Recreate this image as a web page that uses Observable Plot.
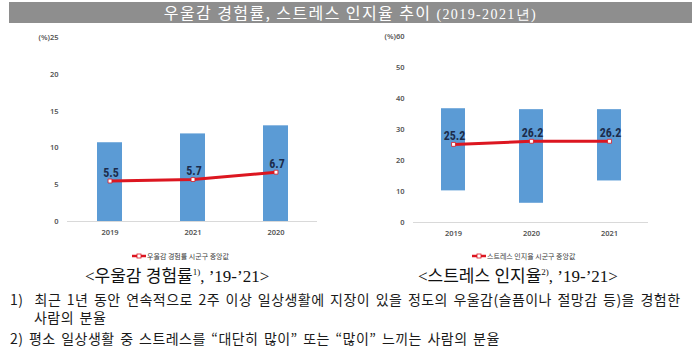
<!DOCTYPE html>
<html><head><meta charset="utf-8">
<script src="https://cdn.jsdelivr.net/npm/d3@7"></script>
<script src="https://cdn.jsdelivr.net/npm/@observablehq/plot@0.6"></script>
<style>
body{margin:0;background:#fff;}
#root{position:relative;width:700px;height:355px;overflow:hidden;font-family:"Noto Sans CJK KR","Noto Sans",sans-serif;}
.abs{position:absolute;white-space:nowrap;}
#title{left:9px;top:2px;width:683px;height:21px;background:#8e8e8e;color:#fff;font-size:16px;line-height:21px;text-align:center;letter-spacing:1.4px;}
.legend{font-size:7px;color:#404040;display:flex;align-items:center;}
.cap{font-family:"Liberation Serif","Noto Sans CJK KR",serif;font-size:17px;line-height:18px;color:#111;}
.cap sup{font-size:9px;vertical-align:0;position:relative;top:-7px;}
.note{font-size:14px;line-height:15px;color:#1a1a1a;letter-spacing:0.45px;word-spacing:2px;}
</style></head>
<body><div id="root">
<div id="title" class="abs">우울감 경험률, 스트레스 인지율 추이 <span style="font-family:'Liberation Serif';font-size:14px">(2019-2021년)</span></div>
</div>
<script>
// Left chart: 우울감 경험률
const leftYears = ["2019", "2021", "2020"];
const leftMin = [0, 0, 0];
const leftMax = [10.7, 11.9, 13.0];
const leftMedian = [5.5, 5.7, 6.7];
const leftTicks = [0, 5, 10, 15, 20, 25];
// Right chart: 스트레스 인지율
const rightYears = ["2019", "2020", "2021"];
const rightMin = [10.2, 6.2, 13.4];
const rightMax = [36.7, 36.4, 36.4];
const rightMedian = [25.2, 26.2, 26.2];
const rightTicks = [0, 10, 20, 30, 40, 50, 60];

const root = document.getElementById("root");

function makeChart(years, mins, maxs, meds, ticks, cfg) {
  const data = years.map((y, i) => ({year: y, lo: mins[i], hi: maxs[i], med: meds[i]}));
  const top = ticks[ticks.length - 1];
  const chart = Plot.plot({
    width: cfg.width, height: cfg.height,
    marginLeft: cfg.ml, marginRight: cfg.mr, marginTop: cfg.mt, marginBottom: cfg.mb,
    style: {fontFamily: "'Noto Sans', sans-serif", fontSize: "7.5px", fontWeight: "600", color: "#555", background: "transparent", overflow: "visible"},
    x: {domain: years, padding: 0, tickSize: 0, tickPadding: 8, label: null},
    y: {domain: [0, top], ticks: ticks, tickSize: 0, tickPadding: 9, label: null,
        tickFormat: d => d === top ? "(%)" + d : String(d)},
    marks: [
      Plot.rectY(data, {x: "year", y1: "lo", y2: "hi", fill: "#5b9bd5", insetLeft: cfg.inset, insetRight: cfg.inset}),
      Plot.ruleY([0], {stroke: "#d9d9d9", strokeWidth: 1}),
      Plot.line(data, {x: "year", y: "med", stroke: "#dc1620", strokeWidth: 3}),
      Plot.dot(data, {x: "year", y: "med", symbol: "square", r: 2.2, fill: "#fff", stroke: "#dc1620", strokeWidth: 0.8}),
      Plot.text(data, {x: "year", y: "med", text: d => d.med.toFixed(1), dy: -8, dx: 1, fontSize: 12, fontWeight: "bold", fill: "#1c2c4c", fontFamily: "'Liberation Sans Narrow','Roboto Condensed','Liberation Sans',sans-serif"})
    ]
  });
  chart.style.position = "absolute";
  chart.style.left = cfg.left + "px";
  chart.style.top = "0px";
  root.appendChild(chart);
}

makeChart(leftYears, leftMin, leftMax, leftMedian, leftTicks,
  {left: 0, width: 350, height: 250, ml: 67, mr: 33, mt: 37, mb: 29, inset: 29});
makeChart(rightYears, rightMin, rightMax, rightMedian, rightTicks,
  {left: 350, width: 350, height: 250, ml: 63, mr: 52, mt: 36, mb: 28, inset: 27});

function legend(x, y, label) {
  const d = document.createElement("div");
  d.className = "abs legend";
  d.style.left = x + "px"; d.style.top = y + "px";
  d.innerHTML = '<svg width="14" height="6" style="margin-right:1px"><line x1="0" y1="3" x2="14" y2="3" stroke="#dc1620" stroke-width="2.5"/><rect x="5" y="1" width="4" height="4" fill="#fff" stroke="#dc1620" stroke-width="0.8"/></svg>' + label;
  root.appendChild(d);
}
legend(132, 251, "우울감 경험률 시군구 중앙값");
legend(472, 251, "스트레스 인지율 시군구 중앙값");

function addText(cls, x, y, html) {
  const d = document.createElement("div");
  d.className = "abs " + cls;
  d.style.left = x + "px"; d.style.top = y + "px";
  d.innerHTML = html;
  root.appendChild(d);
}
addText("cap", 85, 268, "&lt;우울감 경험률<sup>1)</sup>, ’19-’21&gt;");
addText("cap", 418, 268, "&lt;스트레스 인지율<sup>2)</sup>, ’19-’21&gt;");
addText("note", 10, 292, "1)&nbsp; 최근 1년 동안 연속적으로 2주 이상 일상생활에 지장이 있을 정도의 우울감(슬픔이나 절망감 등)을 경험한");
addText("note", 34, 310, "사람의 분율");
addText("note", 10, 331, "2) 평소 일상생활 중 스트레스를 “대단히 많이” 또는 “많이” 느끼는 사람의 분율");
</script>
</body></html>
